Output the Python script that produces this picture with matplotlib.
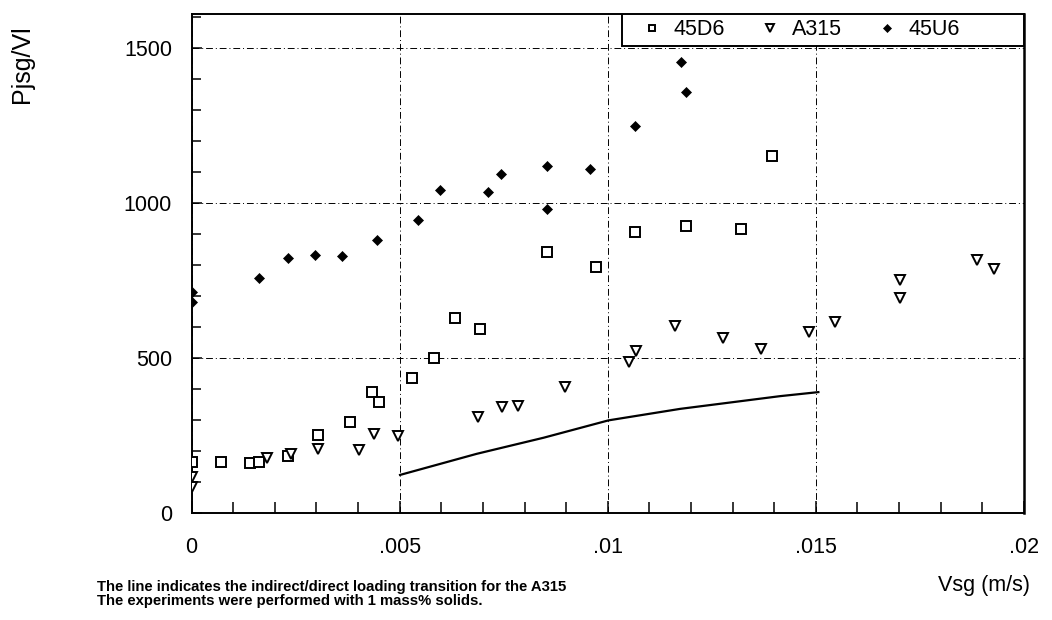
import matplotlib
matplotlib.use("Agg")
import matplotlib.pyplot as plt
from matplotlib.ticker import MultipleLocator, FixedLocator, FuncFormatter
from matplotlib.patches import Rectangle

plt.rcParams['font.family'] = ['Liberation Sans', 'DejaVu Sans']

# 45D6 impeller (open squares)
d6_x = [0.0, 0.0007, 0.00141, 0.00163, 0.00231, 0.00305, 0.00381, 0.00433, 0.00451,
        0.0053, 0.00582, 0.00633, 0.00692, 0.00854, 0.00971, 0.01066, 0.01189,
        0.01321, 0.01394]
d6_y = [167, 166, 163, 167, 184, 253, 295, 392, 360,
        435, 502, 631, 595, 843, 793, 908, 927,
        917, 1153]

# A315 impeller (open down triangles)
a315_x = [0.0, 0.0, 0.00182, 0.00239, 0.00304, 0.00402, 0.00438, 0.00496,
          0.00688, 0.00745, 0.00784, 0.00897, 0.01051, 0.01069, 0.01162,
          0.01277, 0.01369, 0.01484, 0.01546, 0.01702, 0.01702, 0.01888, 0.01927]
a315_y = [118, 84, 179, 191, 207, 206, 257, 250,
          310, 342, 347, 408, 487, 523, 604,
          564, 529, 585, 618, 753, 695, 817, 787]

# 45U6 impeller (filled diamonds)
u6_x = [0.0, 0.0, 0.00162, 0.00233, 0.00297, 0.00362, 0.00445, 0.00543, 0.00596,
        0.00713, 0.00744, 0.00854, 0.00853, 0.00957, 0.01066, 0.01176, 0.01188]
u6_y = [715, 683, 758, 823, 833, 831, 882, 947, 1042,
        1035, 1093, 1120, 980, 1110, 1250, 1456, 1359]

# indirect/direct loading transition for the A315
line_x = [0.00501, 0.00685, 0.00846, 0.01002, 0.01174, 0.01414, 0.01506]
line_y = [124, 192, 244, 300, 337, 378, 391]

xticks = [0, 0.005, 0.01, 0.015, 0.02]
yticks = [0, 500, 1000, 1500]

fig = plt.figure(figsize=(10.52, 6.2), dpi=100)
ax = fig.add_axes([191.5 / 1052, 1 - 513.4 / 620, (1024 - 191.5) / 1052, (513.4 - 14) / 620])

ax.plot(d6_x, d6_y, linestyle='none', marker='s', markersize=6.8, markerfacecolor='white',
        markeredgecolor='black', markeredgewidth=1.4, label='45D6', zorder=3)
ax.plot(a315_x, a315_y, linestyle='none', marker='v', markersize=7.3, markerfacecolor='white',
        markeredgecolor='black', markeredgewidth=1.4, label='A315', zorder=3)
ax.plot(u6_x, u6_y, linestyle='none', marker='D', markersize=5.6, markerfacecolor='black',
        markeredgecolor='black', markeredgewidth=0.5, label='45U6', zorder=3)
ax.plot(line_x, line_y, color='black', linewidth=1.6, zorder=2)

ax.set_xlim(0, 0.02)
ax.set_ylim(0, 1610)
ax.xaxis.set_major_locator(FixedLocator(xticks))
ax.yaxis.set_major_locator(FixedLocator(yticks))
ax.xaxis.set_minor_locator(MultipleLocator(0.001))
ax.yaxis.set_minor_locator(MultipleLocator(100))
ax.xaxis.set_major_formatter(FuncFormatter(lambda v, p: '0' if v == 0 else ('%g' % v).lstrip('0')))

ax.tick_params(which='both', direction='in', top=False, right=False, width=1.1,
               labelsize=15.5)
ax.tick_params(axis='x', which='major', length=9, pad=17)
ax.tick_params(axis='x', which='minor', length=8)
ax.tick_params(axis='y', which='major', length=7, pad=14)
ax.tick_params(axis='y', which='minor', length=6.5)

ax.grid(True, which='major', color='black', linewidth=0.7, linestyle=(0, (7, 3, 1, 3)))
for s in ax.spines.values():
    s.set_linewidth(1.4)
ax.spines['right'].set_linewidth(1.8)

# legend box in the top right corner
ax.add_patch(Rectangle((0.517, 0.936), 0.483, 0.064, transform=ax.transAxes,
                       facecolor='white', edgecolor='black', linewidth=1.4, zorder=4))
leg = ax.legend(loc='center left', bbox_to_anchor=(0.517, 0.968), ncol=3, frameon=False,
                fontsize=15.5, markerscale=0.7, handlelength=0.8, handletextpad=0.6,
                columnspacing=1.7, borderpad=1.0, borderaxespad=0)
leg.set_zorder(5)

fig.text(1030 / 1052, 1 - 585 / 620, 'Vsg (m/s)', ha='right', va='center', fontsize=15.5)
fig.text(22 / 1052, 1 - 64 / 620, 'Pjsg/Vl', rotation=90, ha='center', va='center',
         fontsize=18)

fig.text(97 / 1052, 1 - 587 / 620,
         'The line indicates the indirect/direct loading transition for the A315',
         ha='left', va='center', fontsize=10.7, fontweight='bold')
fig.text(97 / 1052, 1 - 601 / 620,
         'The experiments were performed with 1 mass% solids.',
         ha='left', va='center', fontsize=10.7, fontweight='bold')

fig.savefig('out.png', dpi=100)
